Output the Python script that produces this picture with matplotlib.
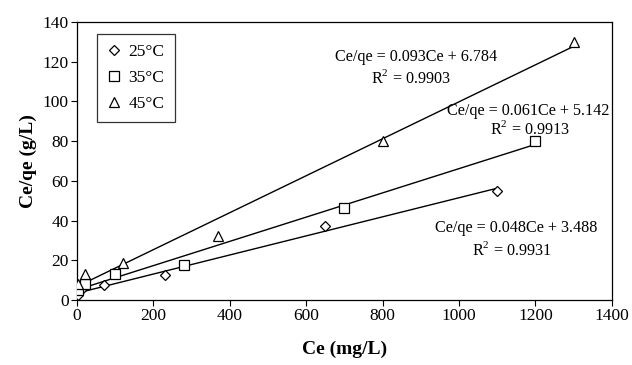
import matplotlib
matplotlib.use("Agg")
import matplotlib.pyplot as plt
import numpy as np

plt.rcParams["font.family"] = ["Liberation Serif", "DejaVu Serif"]
plt.rcParams["mathtext.fontset"] = "custom"
plt.rcParams["mathtext.rm"] = "Liberation Serif"

# ── data ──
ce_25 = [2, 10, 70, 230, 650, 1100]
cq_25 = [2.5, 5, 7.5, 12.5, 37.5, 55]
ce_35 = [2, 20, 100, 280, 700, 1200]
cq_35 = [5, 8, 13, 17.5, 46.5, 80]
ce_45 = [3, 20, 120, 370, 800, 1300]
cq_45 = [8, 13, 18.5, 32, 80, 130]

# fitted lines: slope, intercept, r2
fits = {
    "25": (0.048, 3.488, 0.9931),
    "35": (0.061, 5.142, 0.9913),
    "45": (0.093, 6.784, 0.9903),
}

fig = plt.figure(figsize=(6.32, 3.65), dpi=100)
ax = fig.add_axes([0.122, 0.178, 0.846, 0.762])

series = [
    ("25", ce_25, cq_25, "D", 5),
    ("35", ce_35, cq_35, "s", 6.5),
    ("45", ce_45, cq_45, "^", 6.5),
]
for key, xs, ys, mk, ms in series:
    ax.plot(xs, ys, linestyle="none", marker=mk, markersize=ms,
            markerfacecolor="white", markeredgecolor="black",
            markeredgewidth=0.9, label=f"{key}°C", zorder=3)
    k, b, _ = fits[key]
    xl = np.array([0, max(xs)])
    ax.plot(xl, k * xl + b, color="black", linewidth=1.0, zorder=2)

# equation labels
ann = [
    ("45", 887, 122.4, 874, 111.8),
    ("35", 1180, 95.2, 1185, 86.0),
    ("25", 1151, 36.3, 1138, 25.2),
]
for key, ex, ey, rx, ry in ann:
    k, b, r2 = fits[key]
    ax.text(ex, ey, f"Ce/qe = {k:.3f}Ce + {b:.3f}", ha="center", va="center",
            fontsize=11.6)
    ax.text(rx, ry, f"R$^2$ = {r2:.4f}", ha="center", va="center", fontsize=11.6)

ax.set_xlim(0, 1400)
ax.set_ylim(0, 140)
ax.set_xticks(np.arange(0, 1401, 200))
ax.set_yticks(np.arange(0, 141, 20))
ax.tick_params(direction="out", length=4, width=0.8, labelsize=12.5, pad=2)
for s in ax.spines.values():
    s.set_linewidth(0.9)

ax.set_xlabel("Ce (mg/L)", fontsize=14, fontweight="bold", labelpad=12)
ax.set_ylabel("Ce/qe (g/L)", fontsize=14, fontweight="bold", labelpad=4)

leg = ax.legend(loc="upper left", bbox_to_anchor=(0.037, 0.957), fontsize=12.5,
                frameon=True, fancybox=False, edgecolor="black",
                handlelength=0.8, handletextpad=0.4, borderpad=0.6,
                labelspacing=0.55, borderaxespad=0)
leg.get_frame().set_linewidth(0.9)

fig.savefig("out.png", dpi=100)
